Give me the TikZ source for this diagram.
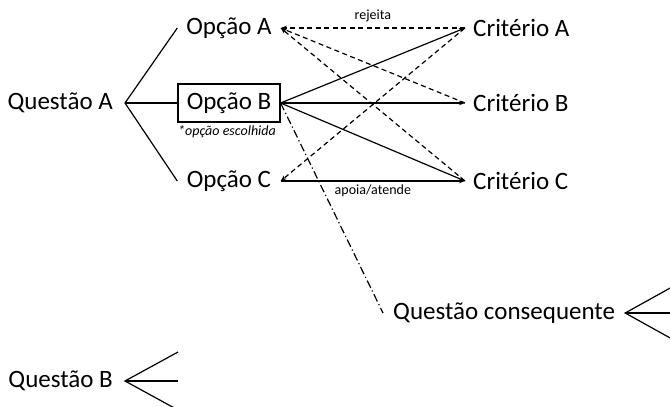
\documentclass[tikz,border=0pt]{standalone}
\usepackage{fontspec}
\setmainfont{Carlito}
\usetikzlibrary{arrows.meta}
\begin{document}
\begin{tikzpicture}[x=1pt,y=-1pt,
  big/.style={font=\fontsize{25}{30}\selectfont, inner sep=0pt},
  small/.style={font=\fontsize{14}{16}\selectfont, inner sep=0pt},
  optbox/.style={big, minimum width=103pt, minimum height=38pt},
  link/.style={line width=1.2pt},
  tip/.style={-{Stealth[length=6pt,width=4.5pt]}},
  reject/.style={link, dashed, dash pattern=on 5pt off 3.5pt},
  follow/.style={link, dash pattern=on 8pt off 3pt on 1.2pt off 3pt}]
\useasboundingbox (0,0) rectangle (670,407);

% questions
\node[big, anchor=east, inner xsep=12pt] (qa) at (125,103) {Questão A};
\node[big, anchor=east, inner xsep=12pt] (qb) at (125,381) {Questão B};
\node[big, anchor=west, inner xsep=10pt] (qc) at (383,313) {Questão consequente};

% options
\node[optbox] (oa) at (229,28) {Opção A};
\node[optbox, draw, line width=1.2pt, minimum width=102pt] (ob) at (229,103) {Opção B};
\node[optbox] (oc) at (229,181) {Opção C};
\node[small, font=\fontsize{14}{16}\selectfont\itshape] (note) at (227,132) {*opção escolhida};

% criteria
\node[big, anchor=west, inner xsep=8pt] (ca) at (465,28) {Critério A};
\node[big, anchor=west, inner xsep=8pt] (cb) at (465,103) {Critério B};
\node[big, anchor=west, inner xsep=8pt] (cc) at (465,181) {Critério C};

% fork ends
\coordinate (qb1) at (178,352);
\coordinate (qb2) at (178,381);
\coordinate (qb3) at (178,410);
\coordinate (qc1) at (672,287);
\coordinate (qc2) at (672,313);
\coordinate (qc3) at (672,339);

% branches of the questions
\draw[link] (oa.west) -- (qa.east) -- (oc.west);
\draw[link] (qa.east) -- (ob.west);
\draw[link] (qb1) -- (qb.east) -- (qb3);
\draw[link] (qb.east) -- (qb2);
\draw[link] (qc1) -- (qc.east) -- (qc3);
\draw[link] (qc.east) -- (qc2);

% chosen option meets every criterion
\draw[link, tip] (ob.east) -- (ca.west);
\draw[link, tip] (ob.east) -- (cb.west);
\draw[link, tip] (ob.east) -- (cc.west);
\draw[link, tip] (oc.east) -- node[small, below=3pt] (lbla) {apoia/atende} (cc.west);

% rejected options
\draw[reject, tip] (ca.west) -- node[small, above=6pt] (lblr) {rejeita} (oa.east);
\draw[reject, tip] (cb.west) -- (oa.east);
\draw[reject, tip] (cc.west) -- (oa.east);
\draw[reject, tip] (ca.west) -- (oc.east);

% consequence of the choice
\draw[follow] (ob.east) -- (qc.west);
\end{tikzpicture}
\end{document}
